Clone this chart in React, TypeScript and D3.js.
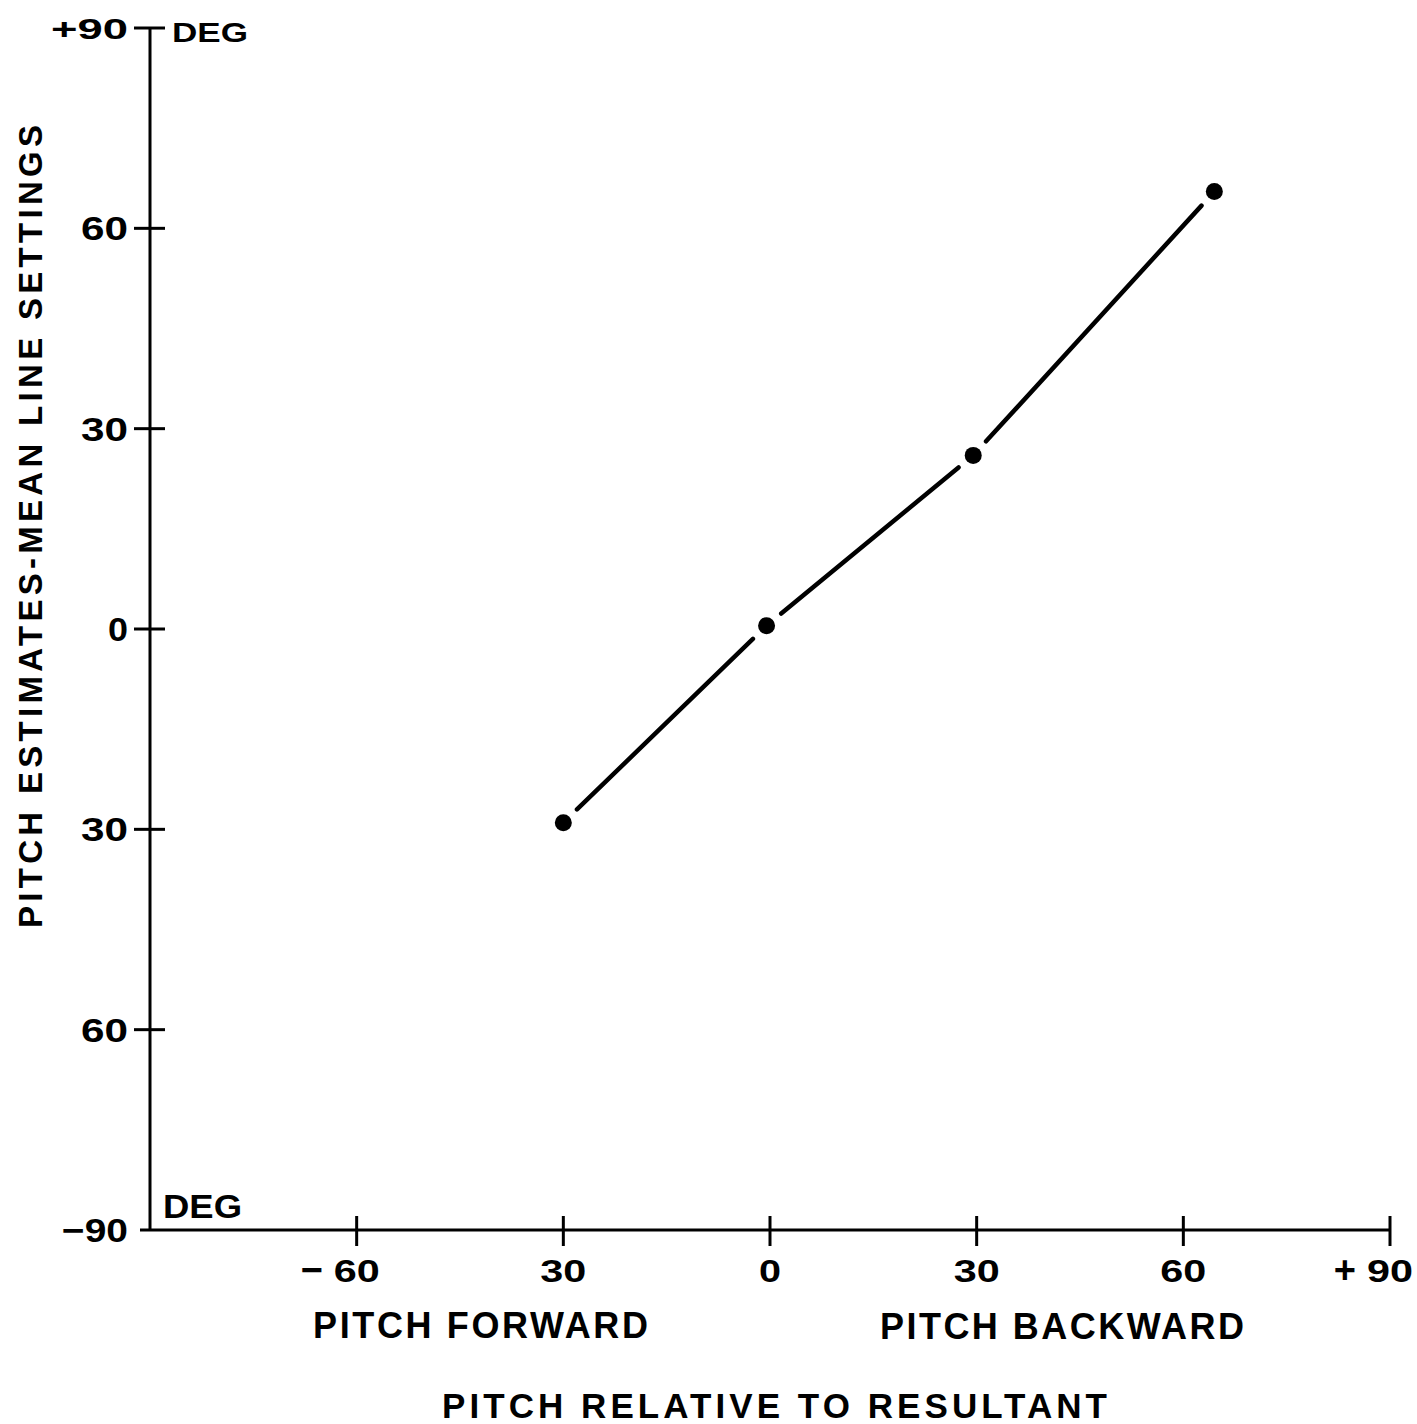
import React from 'react';
import * as d3 from 'd3';

// readings taken off the scanned figure
const pitchRelative = [-30, -0.5, 29.5, 64.5];
const pitchEstimate = [-29, 0.5, 26, 65.5];

const xTickValues = [-60, -30, 0, 30, 60, 90];
const xTickLabels = ['60', '30', '0', '30', '60', '90'];
const xTickSigns = ['\u2212', '', '', '', '', '+'];

const yTickValues = [90, 60, 30, 0, -30, -60, -90];
const yTickLabels = ['+90', '60', '30', '0', '30', '60', '\u221290'];

const W = 1417;
const H = 1424;
const font = '"Liberation Sans", Arial, Helvetica, sans-serif';

// the typewriter digits are wider than Arial's
const digitW = 23.5;
const labelWidth = (s: string) =>
  s.split('').reduce((w, c) => w + (c === '+' || c === '\u2212' ? 30 : c === '0' && s.length === 1 ? 20 : digitW), 0);

const App: React.FC = () => {
  const x = d3.scaleLinear().domain([-90, 90]).range([150, 1390]);
  const y = d3.scaleLinear().domain([-90, 90]).range([1230, 28]);

  const pts = pitchRelative.map((v, i) => [x(v), y(pitchEstimate[i])] as [number, number]);

  // line is broken just short of every dot
  const gap = 19;
  const segments = d3.pairs(pts).map(([a, b]) => {
    const dx = b[0] - a[0];
    const dy = b[1] - a[1];
    const len = Math.hypot(dx, dy);
    const ux = dx / len;
    const uy = dy / len;
    return [
      [a[0] + ux * gap, a[1] + uy * gap],
      [b[0] - ux * gap, b[1] - uy * gap],
    ] as [number, number][];
  });
  const line = d3.line();

  const x0 = x(-90);
  const yBase = y(-90);

  return (
    <svg
      width={W}
      height={H}
      style={{ position: 'absolute', left: 0, top: 0, background: '#fff' }}
      fontFamily={font}
      fontWeight="bold"
    >
      <rect width={W} height={H} fill="#fff" />

      {/* axes */}
      <line x1={x0} x2={x0} y1={y(90)} y2={yBase + 1} stroke="#000" strokeWidth={3} />
      <line x1={x0 - 10} x2={x(90)} y1={yBase} y2={yBase} stroke="#000" strokeWidth={3} />

      {/* y ticks */}
      {yTickValues.map((v, i) => {
        const ty = y(v);
        const isBottom = v === -90;
        const lbl = yTickLabels[i];
        return (
          <g key={'y' + i}>
            {!isBottom && (
              <line x1={x0 - 16} x2={x0 + 15} y1={ty} y2={ty} stroke="#000" strokeWidth={3} />
            )}
            <text
              x={128}
              y={ty + (v === 90 ? 11 : 12)}
              textAnchor="end"
              fontSize={v === 90 ? 29 : 34}
              textLength={v === 90 ? 77 : isBottom ? 66 : labelWidth(lbl)}
              lengthAdjust="spacingAndGlyphs"
            >
              {lbl}
            </text>
          </g>
        );
      })}
      <text x={172} y={42} fontSize={28} textLength={76} lengthAdjust="spacingAndGlyphs">
        DEG
      </text>
      <text x={163} y={1218} fontSize={33} textLength={79} lengthAdjust="spacingAndGlyphs">
        DEG
      </text>

      {/* x ticks */}
      {xTickValues.map((v, i) => {
        const tx = x(v);
        const lbl = xTickLabels[i];
        return (
          <g key={'x' + i}>
            <line x1={tx} x2={tx} y1={yBase - 14} y2={yBase + 16} stroke="#000" strokeWidth={3} />
            <text
              x={tx}
              y={1282}
              textAnchor="middle"
              fontSize={32}
              textLength={lbl.length === 1 ? 22 : 46}
              lengthAdjust="spacingAndGlyphs"
            >
              {lbl}
            </text>
            {xTickSigns[i] && (
              <text x={tx - 34} y={1283} textAnchor="end" fontSize={38}>
                {xTickSigns[i]}
              </text>
            )}
          </g>
        );
      })}

      {/* axis titles */}
      <text x={313} y={1338} fontSize={36} textLength={335} lengthAdjust="spacing">
        PITCH FORWARD
      </text>
      <text x={880} y={1339} fontSize={36} textLength={364} lengthAdjust="spacing">
        PITCH BACKWARD
      </text>
      <text x={442} y={1418} fontSize={35} textLength={665} lengthAdjust="spacing">
        PITCH RELATIVE TO RESULTANT
      </text>
      <text
        transform="translate(42,928) rotate(-90)"
        fontSize={33}
        textLength={803}
        lengthAdjust="spacing"
      >
        PITCH ESTIMATES-MEAN LINE SETTINGS
      </text>

      {/* data */}
      {segments.map((s, i) => (
        <path key={'s' + i} d={line(s) || ''} stroke="#000" strokeWidth={4.5} fill="none" strokeLinecap="round" />
      ))}
      {pts.map((p, i) => (
        <circle key={'p' + i} cx={p[0]} cy={p[1]} r={8.5} fill="#000" />
      ))}
    </svg>
  );
};

export default App;
